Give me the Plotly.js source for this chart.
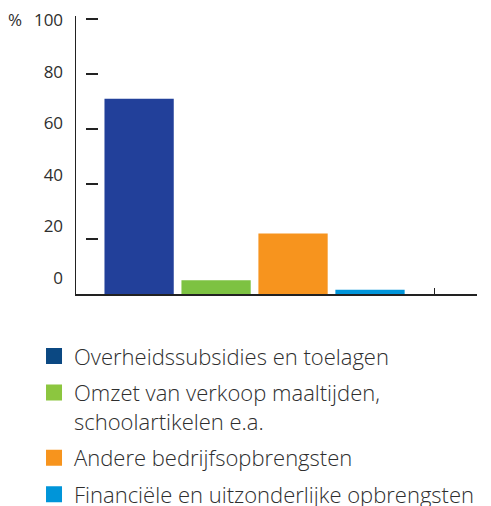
<!DOCTYPE html>
<html>
<head>
<meta charset="utf-8">
<script src="https://cdn.plot.ly/plotly-3.0.1.min.js"></script>
<style>html,body{margin:0;padding:0;background:#fff;}#chart{width:491px;height:506px;}</style>
</head>
<body>
<div id="chart"></div>
<script>
// Data
const categories = [
  "Overheidssubsidies en toelagen",
  "Omzet van verkoop maaltijden,<br>schoolartikelen e.a.",
  "Andere bedrijfsopbrengsten",
  "Financiële en uitzonderlijke opbrengsten"
];
const values = [71, 5, 22, 1.5];
const barColors = ["#22409a", "#7dc242", "#f7941e", "#0095da"];
const legendColors = ["#0b4882", "#8cc63f", "#f7941d", "#0095d9"];
const yTickVals = [0, 20, 40, 60, 80, 100];
const yTickText = ["0", "20", "40", "60", "80", "100"];

const FONT = "'Open Sans', 'DejaVu Sans', sans-serif";
const TXT = "#2e2e2e";

const traces = [{
  type: "bar",
  x: categories.map((c, i) => i),
  y: values,
  width: 0.9,
  marker: {color: barColors, line: {width: 0}},
  hovertext: categories,
  showlegend: false,
  xaxis: "x", yaxis: "y"
}];
categories.forEach((c, i) => {
  traces.push({
    type: "scatter", mode: "markers",
    x: [null], y: [null],
    name: c,
    legendgroup: "g" + i,
    marker: {symbol: "square", size: 16, color: legendColors[i]},
    showlegend: true,
    xaxis: "x", yaxis: "y"
  });
});
// invisible trace so the label axis is drawn
traces.push({type: "scatter", mode: "markers", x: [null], y: [null], showlegend: false, xaxis: "x", yaxis: "y2", hoverinfo: "skip"});

const layout = {
  width: 491, height: 506,
  margin: {l: 76, r: 14, t: 16, b: 212, autoexpand: false},
  paper_bgcolor: "#fff", plot_bgcolor: "#fff",
  font: {family: FONT, color: TXT, size: 17},
  showlegend: true,
  xaxis: {
    range: [-0.82, 4.39],
    showline: true, linecolor: "#222", linewidth: 1.5,
    ticks: "inside", tickvals: [3.84], ticklen: 6, tickcolor: "#222", tickwidth: 1.5,
    showticklabels: false, showgrid: false, zeroline: false, fixedrange: true
  },
  yaxis: {
    range: [0, 101.09], domain: [0, 1],
    anchor: "free", position: 0.0224, side: "left",
    ticks: "inside", tickvals: yTickVals, ticklen: 12, tickcolor: "#222", tickwidth: 1.5,
    showticklabels: false, showline: false, showgrid: false, zeroline: false, fixedrange: true
  },
  yaxis2: {
    overlaying: "y", anchor: "x", side: "left",
    range: [-6.2, 101.55],
    showline: true, linecolor: "#222", linewidth: 1.5,
    ticks: "outside", ticklen: 8, tickcolor: "rgba(0,0,0,0)",
    tickvals: yTickVals, ticktext: yTickText,
    tickfont: {family: FONT, size: 17, color: TXT, weight: 400},
    showgrid: false, zeroline: false, fixedrange: true
  },
  legend: {
    x: -0.1047, xanchor: "left",
    y: -0.148, yanchor: "top",
    orientation: "v", valign: "top",
    font: {family: FONT, size: 22, color: TXT, weight: 300},
    bgcolor: "rgba(0,0,0,0)", borderwidth: 0,
    tracegroupgap: 5, itemclick: false, itemdoubleclick: false
  },
  annotations: [{
    text: "%", xref: "paper", yref: "paper",
    x: -0.152, y: 0.986, xanchor: "center", yanchor: "middle",
    showarrow: false, font: {family: FONT, size: 17, color: TXT, weight: 400}
  }]
};

Plotly.newPlot("chart", traces, layout, {displayModeBar: false, staticPlot: true});
</script>
</body>
</html>
